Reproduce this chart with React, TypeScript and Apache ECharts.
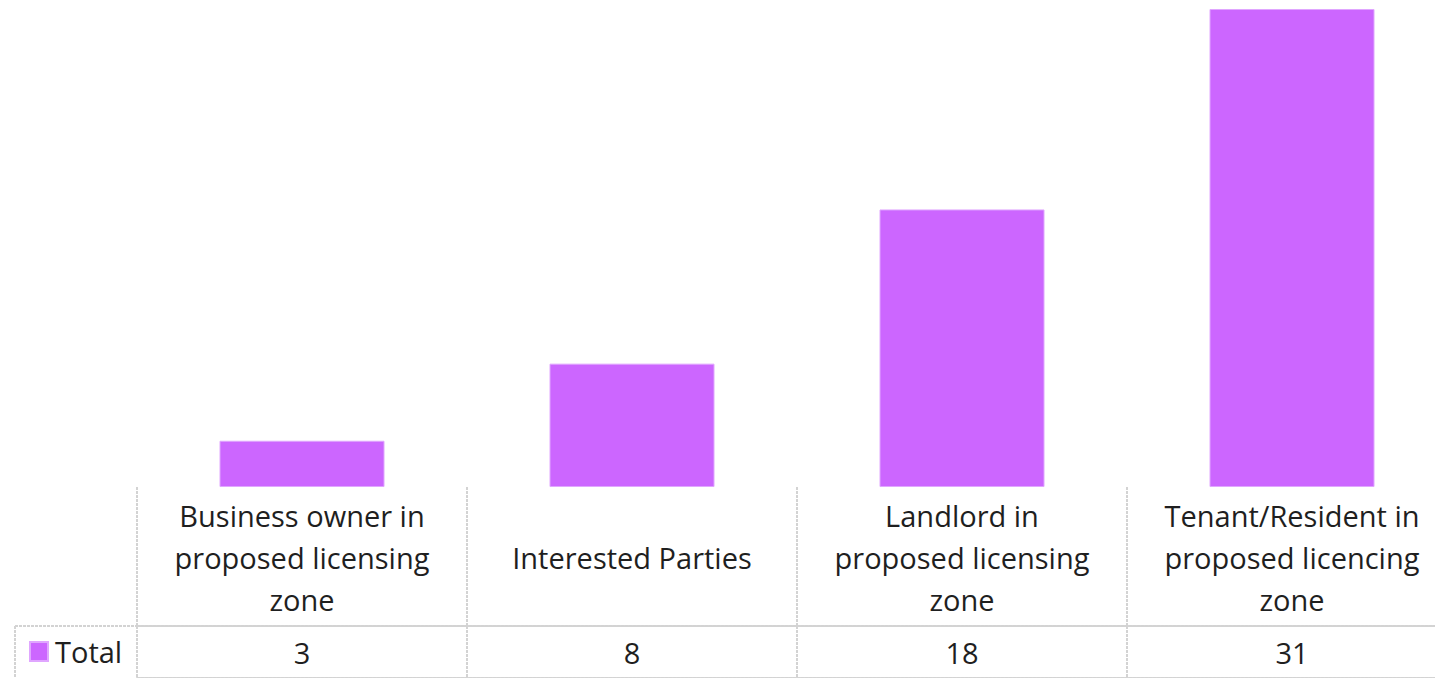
import React, { useEffect, useRef } from "react";
import * as echarts from "echarts";

const categories = [
  "Business owner in\nproposed licensing\nzone",
  "Interested Parties",
  "Landlord in\nproposed licensing\nzone",
  "Tenant/Resident in\nproposed licencing\nzone",
];
const seriesName = "Total";
const totals = [3, 8, 18, 31];

const FONT = "'Open Sans', Lato, sans-serif";
const FONT_SIZE = 29;
const TEXT = "#1f1f1f";
const BORDER = "#d3d3d3";
const BAR = "#cc66ff";

export default function App() {
  const ref = useRef<HTMLDivElement>(null);
  useEffect(() => {
    if (!ref.current) return;
    const chart = echarts.init(ref.current, undefined, { renderer: "svg" });
    const lineStyle = { color: BORDER, width: 2, type: [3, 1] as any };
    const gridBox = { left: 137, width: 1320 };
    chart.setOption({
      animation: false,
      backgroundColor: "#ffffff",
      grid: [
        { ...gridBox, top: 9, height: 478 },
        { ...gridBox, top: 487, height: 139 },
        { ...gridBox, top: 626, height: 70 },
      ],
      legend: {
        data: [seriesName],
        left: 29,
        top: 637,
        icon: "rect",
        itemWidth: 18,
        itemHeight: 19,
        itemGap: 8,
        padding: 0,
        textStyle: { fontSize: FONT_SIZE, fontFamily: FONT, color: TEXT, padding: [0, 0, 0, 2] },
        selectedMode: false,
      },
      xAxis: [
        {
          type: "category",
          gridIndex: 0,
          data: categories,
          show: false,
        },
        {
          type: "category",
          gridIndex: 1,
          data: categories,
          position: "top",
          axisLine: { show: true, lineStyle },
          axisTick: { show: false },
          splitLine: { show: true, interval: 0, lineStyle },
          axisLabel: {
            inside: true,
            interval: 0,
            margin: 70,
            verticalAlign: "middle",
            align: "center",
            lineHeight: 42,
            fontSize: FONT_SIZE,
            fontFamily: FONT,
            color: TEXT,
          },
        },
        {
          type: "category",
          gridIndex: 2,
          data: categories,
          position: "top",
          axisLine: { show: true, lineStyle },
          axisTick: { show: false },
          splitLine: { show: true, interval: 0, lineStyle },
          axisLabel: {
            inside: true,
            interval: 0,
            margin: 26,
            verticalAlign: "middle",
            align: "center",
            fontSize: FONT_SIZE,
            fontFamily: FONT,
            color: TEXT,
            formatter: (_v: string, i: number) => String(totals[i]),
          },
        },
      ],
      yAxis: [
        { type: "value", gridIndex: 0, min: 0, max: Math.max(...totals), show: false },
        { type: "value", gridIndex: 1, show: false },
        { type: "value", gridIndex: 2, show: false },
      ],
      graphic: [
        {
          type: "line",
          shape: { x1: 15, y1: 626, x2: 137, y2: 626 },
          style: { stroke: BORDER, lineWidth: 2, lineDash: [3, 1] },
        },
        {
          type: "line",
          shape: { x1: 15, y1: 626, x2: 15, y2: 678 },
          style: { stroke: BORDER, lineWidth: 2, lineDash: [3, 1] },
        },
      ],
      series: [
        {
          name: seriesName,
          type: "bar",
          xAxisIndex: 0,
          yAxisIndex: 0,
          data: totals,
          barWidth: "50%",
          itemStyle: { color: BAR, borderColor: "#e0a6ff", borderWidth: 1 },
        },
      ],
    });
    return () => chart.dispose();
  }, []);
  return (
    <div
      style={{
        position: "fixed",
        left: 0,
        top: 0,
        width: 1435,
        height: 678,
        overflow: "hidden",
        background: "#ffffff",
      }}
    >
      <div ref={ref} style={{ width: 1460, height: 678 }} />
    </div>
  );
}
